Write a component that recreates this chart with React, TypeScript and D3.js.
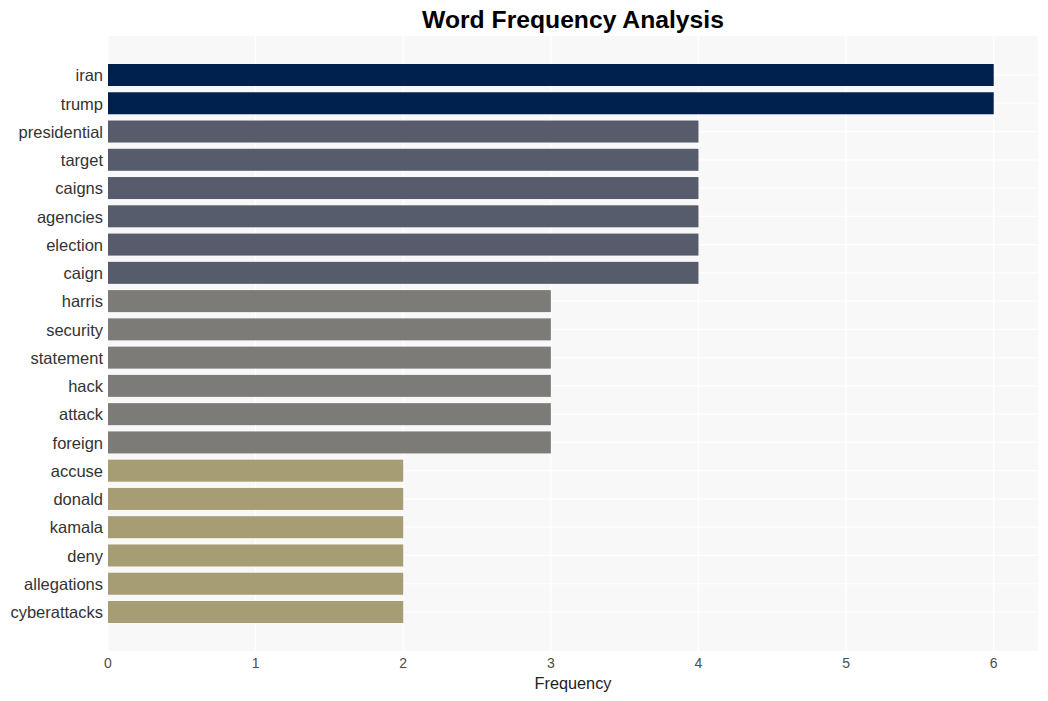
import React from "react";
import * as d3 from "d3";

const words = [
  "iran", "trump", "presidential", "target", "caigns", "agencies", "election", "caign",
  "harris", "security", "statement", "hack", "attack", "foreign",
  "accuse", "donald", "kamala", "deny", "allegations", "cyberattacks",
];
const freqs = [6, 6, 4, 4, 4, 4, 4, 4, 3, 3, 3, 3, 3, 3, 2, 2, 2, 2, 2, 2];
const xTicks = [0, 1, 2, 3, 4, 5, 6];
const colorLevels = [6, 4, 3, 2];
const colorValues = ["#00204D", "#575C6D", "#7C7B78", "#A69D75"];

const W = 1048;
const H = 701;
const left = 108;
const right = 1038;
const top = 36;
const bottom = 651;

export default function App() {
  const x = d3.scaleLinear().domain([0, 6.3]).range([left, right]);
  const y = d3.scaleLinear().domain([-1.38, words.length - 1 + 1.38]).range([top, bottom]);
  const color = d3.scaleOrdinal<number, string>().domain(colorLevels).range(colorValues);
  const barH = 22;
  const font = "Liberation Sans, Arial, Helvetica, sans-serif";

  return (
    <svg width={W} height={H} style={{ position: "absolute", left: 0, top: 0 }} fontFamily={font}>
      <rect x={0} y={0} width={W} height={H} fill="#ffffff" />
      <rect x={left} y={top} width={right - left} height={bottom - top} fill="#f8f8f8" />
      {xTicks.map((t) => (
        <line key={"gx" + t} x1={x(t)} x2={x(t)} y1={top} y2={bottom} stroke="#ffffff" strokeWidth={1.2} />
      ))}
      {words.map((w, i) => (
        <line key={"gy" + w} x1={left} x2={right} y1={y(i)} y2={y(i)} stroke="#ffffff" strokeWidth={1.2} />
      ))}
      {words.map((w, i) => (
        <rect
          key={"b" + w}
          x={x(0)}
          y={y(i) - barH / 2}
          width={x(freqs[i]) - x(0)}
          height={barH}
          fill={color(freqs[i])}
        />
      ))}
      {words.map((w, i) => (
        <text
          key={"l" + w}
          x={left - 5}
          y={y(i)}
          dy="0.38em"
          textAnchor="end"
          fontSize={16.5}
          fill="#333333"
        >
          {w}
        </text>
      ))}
      {xTicks.map((t) => (
        <text key={"tx" + t} x={x(t)} y={668} textAnchor="middle" fontSize={14} fill="#4d4d4d">
          {t}
        </text>
      ))}
      <text x={(left + right) / 2} y={689} textAnchor="middle" fontSize={16.3} fill="#222222">
        Frequency
      </text>
      <text x={(left + right) / 2} y={28} textAnchor="middle" fontSize={24.7} fontWeight="bold" fill="#000000">
        Word Frequency Analysis
      </text>
    </svg>
  );
}
